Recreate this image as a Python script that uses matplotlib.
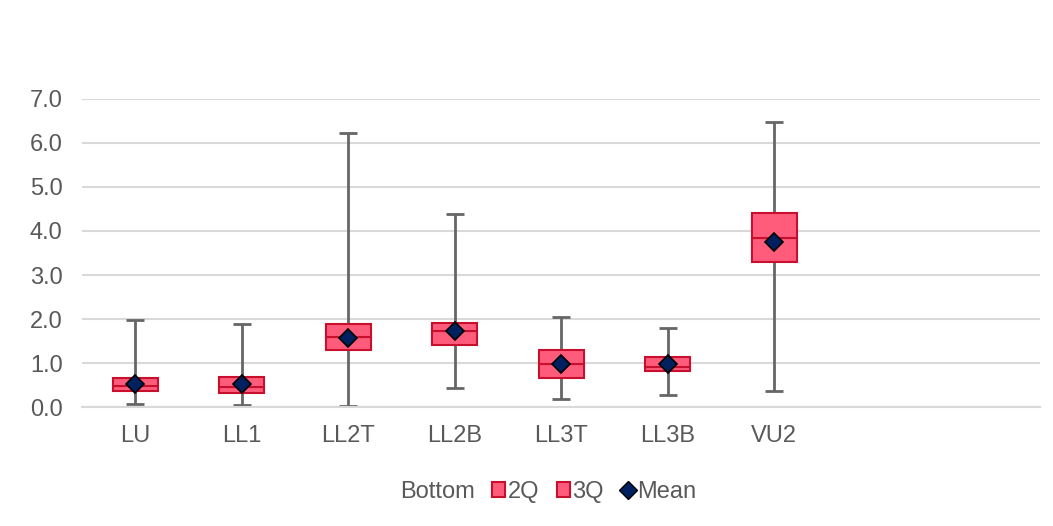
import numpy as np
import matplotlib.pyplot as plt
from matplotlib.patches import Patch
from matplotlib.lines import Line2D

plt.rcParams['font.family'] = ['Liberation Sans', 'DejaVu Sans']

# box plot statistics
categories = ['LU', 'LL1', 'LL2T', 'LL2B', 'LL3T', 'LL3B', 'VU2', '', '']
minimum = [0.07, 0.04, 0.02, 0.44, 0.19, 0.28, 0.36]
q1 = [0.36, 0.31, 1.29, 1.41, 0.67, 0.82, 3.30]
median = [0.48, 0.46, 1.59, 1.73, 0.97, 0.91, 3.83]
q3 = [0.66, 0.69, 1.88, 1.90, 1.29, 1.14, 4.40]
maximum = [1.98, 1.89, 6.23, 4.39, 2.05, 1.79, 6.48]
mean = [0.52, 0.52, 1.57, 1.72, 0.98, 0.98, 3.76]

box_fill = '#FF5C7C'
box_edge = '#C8102E'
text_col = '#595959'
fs = 17

n = len(mean)
x = np.arange(n)
q1 = np.array(q1)
med = np.array(median)
q3 = np.array(q3)

fig = plt.figure(figsize=(10.53, 5.26), dpi=100)
ax = fig.add_axes([0.078, 0.226, 0.910, 0.586])

# whiskers first so boxes cover them
ax.errorbar(x, med, yerr=[med - np.array(minimum), np.array(maximum) - med],
            fmt='none', ecolor='#666666', elinewidth=2, capsize=6.5,
            capthick=2, zorder=2)

w = 0.42
ax.bar(x, q1, width=w, color='none', edgecolor='none')
ax.bar(x, med - q1, width=w, bottom=q1, color=box_fill,
       edgecolor=box_edge, linewidth=1.5, zorder=3)
ax.bar(x, q3 - med, width=w, bottom=med, color=box_fill,
       edgecolor=box_edge, linewidth=1.5, zorder=3)
ax.plot(x, mean, linestyle='none', marker='D', markersize=9,
        markerfacecolor='#002060', markeredgecolor='black',
        markeredgewidth=1.2, zorder=4)

ax.set_xlim(-0.5, len(categories) - 0.5)
ax.set_ylim(0, 7)
ax.set_xticks(np.arange(len(categories)))
ax.set_xticklabels(categories)
ax.set_yticks(np.arange(0, 8, 1))
ax.set_yticklabels([f'{v:.1f}' for v in range(8)])
ax.tick_params(axis='both', length=0, labelsize=fs, colors=text_col)
ax.tick_params(axis='x', pad=13)
ax.tick_params(axis='y', pad=14)
ax.grid(axis='y', color='#D9D9D9', linewidth=1.5)
ax.set_axisbelow(True)
for s in ['top', 'right', 'left']:
    ax.spines[s].set_visible(False)
ax.spines['bottom'].set_color('#D9D9D9')
ax.spines['bottom'].set_linewidth(1.5)

handles = [
    Patch(facecolor='none', edgecolor='none'),
    Patch(facecolor=box_fill, edgecolor=box_edge, linewidth=1.5),
    Patch(facecolor=box_fill, edgecolor=box_edge, linewidth=1.5),
    Line2D([], [], linestyle='none', marker='D', markersize=9,
           markerfacecolor='#002060', markeredgecolor='black'),
]
leg = fig.legend(handles, ['Bottom', '2Q', '3Q', 'Mean'], loc='center',
                 bbox_to_anchor=(0.513, 0.065), ncol=4, frameon=False,
                 fontsize=fs, handlelength=0.55, handleheight=0.55,
                 handletextpad=0.1, columnspacing=0.75,
                 borderpad=0, borderaxespad=0)
for t in leg.get_texts():
    t.set_color(text_col)

fig.savefig('out.png', dpi=100)
